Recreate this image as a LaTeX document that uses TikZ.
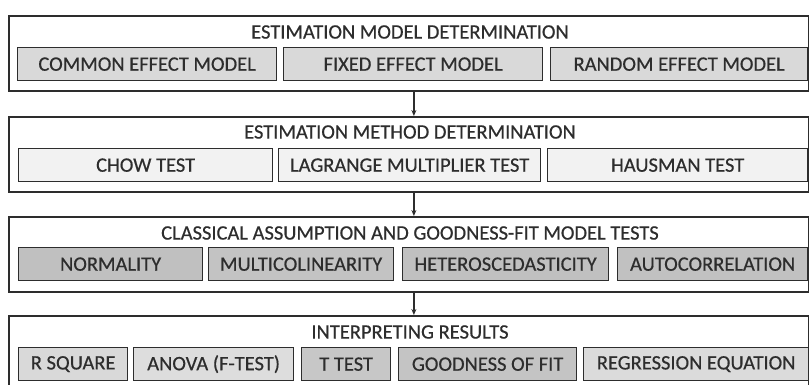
\documentclass[tikz,border=0pt]{standalone}
\usepackage{fontspec}
\setmainfont{Carlito}
\newfontfamily\capfont[FakeBold=0.5]{Carlito}
\usepackage{tikz}
\usetikzlibrary{positioning, arrows.meta}
\definecolor{ink}{RGB}{45,45,45}
\definecolor{lite}{RGB}{242,242,242}
\definecolor{mid}{RGB}{217,217,217}
\definecolor{dark}{RGB}{192,192,192}
\tikzset{
  panel/.style={draw=ink,line width=1.8pt,fill=white,inner sep=0pt,
    anchor=north west,minimum width=800pt,minimum height=75pt},
  cell/.style={draw=ink,line width=1.3pt,inner sep=0pt,anchor=north west,
    minimum height=33pt,font=\capfont\fontsize{20.5}{22}\selectfont,text=ink},
  ttl/.style={font=\capfont\fontsize{20.5}{22}\selectfont,text=ink},
  arr/.style={-{Stealth[length=6pt,width=5pt]},line width=1.2pt,draw=ink},
}

\begin{document}
\begin{tikzpicture}[x=1pt,y=-1pt]
  \useasboundingbox (0,0) rectangle (809,385);
  % panels
  \node[panel] (p1) at (8,15) {};
  \node[panel] (p2) at (8,116) {};
  \node[panel] (p3) at (8,216) {};
  \node[panel] (p4) at (8,315) {};
  % titles
  \node[ttl] (t1) at (410,32) {ESTIMATION MODEL DETERMINATION};
  \node[ttl] (t2) at (410,132) {ESTIMATION METHOD DETERMINATION};
  \node[ttl] (t3) at (410,233) {CLASSICAL ASSUMPTION AND GOODNESS-FIT MODEL TESTS};
  \node[ttl] (t4) at (410,332) {INTERPRETING RESULTS};
  % row 1
  \node[cell,fill=mid,minimum width=259pt] (cem) at (17,47) {COMMON EFFECT MODEL};
  \node[cell,fill=mid,minimum width=259pt] (fem) at (283,47) {FIXED EFFECT MODEL};
  \node[cell,fill=mid,minimum width=257pt] (rem) at (550,47) {RANDOM EFFECT MODEL};
  % row 2
  \node[cell,fill=lite,minimum width=254pt] (chow) at (18,148) {CHOW TEST};
  \node[cell,fill=lite,minimum width=262pt] (lm) at (278,148) {LAGRANGE MULTIPLIER TEST};
  \node[cell,fill=lite,minimum width=260pt] (haus) at (547,148) {HAUSMAN TEST};
  % row 3
  \node[cell,fill=dark,minimum width=184pt] (norm) at (18,247) {NORMALITY};
  \node[cell,fill=dark!95!white,minimum width=185pt] (multi) at (208,247) {MULTICOLINEARITY};
  \node[cell,fill=dark,minimum width=206pt] (hetero) at (402,247) {HETEROSCEDASTICITY};
  \node[cell,fill=dark!98!white,minimum width=190pt] (auto) at (617,247) {AUTOCORRELATION};
  % row 4
  \node[cell,fill=mid,minimum width=109pt] (rsq) at (18,347) {R SQUARE};
  \node[cell,fill=mid!90!white,minimum width=160pt] (anova) at (133,347) {ANOVA (F-TEST)};
  \node[cell,fill=dark!70!mid,minimum width=89pt] (ttest) at (301,347) {T TEST};
  \node[cell,fill=dark!85!mid,minimum width=178pt] (gof) at (398,347) {GOODNESS OF FIT};
  \node[cell,fill=mid!95!white,minimum width=225pt] (reg) at (583,347) {REGRESSION EQUATION};
  % arrows
  \draw[arr] ([xshift=5pt]p1.south) -- ([xshift=5pt]p2.north);
  \draw[arr] ([xshift=5pt]p2.south) -- ([xshift=5pt]p3.north);
  \draw[arr] ([xshift=5pt]p3.south) -- ([xshift=5pt]p4.north);
\end{tikzpicture}
\end{document}
